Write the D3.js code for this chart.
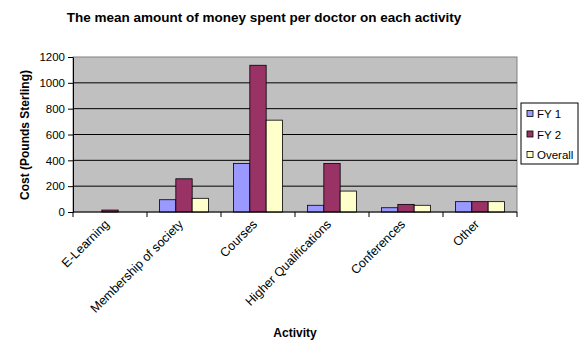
<!DOCTYPE html>
<html>
<head>
<meta charset="utf-8">
<script src="https://cdn.jsdelivr.net/npm/d3@7"></script>
<style>
  body { margin: 0; background: #fff; }
  svg { font-family: Arial, "Liberation Sans", sans-serif; }
</style>
</head>
<body>
<svg width="584" height="346"></svg>
<script>
const categories = ["E-Learning", "Membership of society", "Courses", "Higher Qualifications", "Conferences", "Other"]
const seriesNames = ["FY 1", "FY 2", "Overall"]
const fy1 = [0, 95, 376, 52, 33, 80]
const fy2 = [15, 257, 1136, 376, 59, 80]
const overall = [0, 106, 711, 162, 52, 80]
const yTicks = [0, 200, 400, 600, 800, 1000, 1200]
const colors = ["#9999ff", "#993366", "#ffffcc"]

const series = [fy1, fy2, overall]
const svg = d3.select("svg")
const plotL = 73, plotR = 517, plotT = 57, plotB = 212

const x = d3.scaleBand().domain(categories).range([plotL, plotR])
// 3 bars of ~16.5px centred in each 74px category
const xs = d3.scaleBand().domain(seriesNames).range([12.5, x.bandwidth() - 12.5])
const y = d3.scaleLinear().domain([0, 1200]).range([plotB, plotT])

// plot background
svg.append("rect")
  .attr("x", plotL).attr("y", plotT)
  .attr("width", plotR - plotL).attr("height", plotB - plotT)
  .attr("fill", "#c0c0c0")
  .attr("stroke", "#808080")

// gridlines
svg.append("g").selectAll("line")
  .data(yTicks.filter(d => d > 0 && d < 1200))
  .enter().append("line")
  .attr("x1", plotL).attr("x2", plotR)
  .attr("y1", d => y(d)).attr("y2", d => y(d))
  .attr("stroke", "#000").attr("stroke-width", 1)

// bars
categories.forEach((c, i) => {
  svg.append("g").selectAll("rect")
    .data(series.map((s, k) => ({ name: seriesNames[k], value: s[i], k: k })))
    .enter().append("rect")
    .attr("x", d => x(c) + xs(d.name))
    .attr("y", d => y(d.value))
    .attr("width", xs.bandwidth())
    .attr("height", d => plotB - y(d.value))
    .attr("fill", d => colors[d.k])
    .attr("stroke", "#000")
    .attr("stroke-width", 0.8)
})

// y axis
const yAxis = svg.append("g")
  .attr("transform", `translate(${plotL},0)`)
  .call(d3.axisLeft(y).tickValues(yTicks).tickSize(5).tickSizeOuter(0).tickFormat(d3.format("d")))
yAxis.select(".domain").attr("stroke", "#000")
yAxis.selectAll("text").attr("font-size", 11.5).attr("fill", "#000")
  .attr("font-family", "Arial, 'Liberation Sans', sans-serif")

// x axis with ticks at category boundaries
const xAxisG = svg.append("g").attr("transform", `translate(0,${plotB})`)
xAxisG.append("line").attr("x1", plotL).attr("x2", plotR).attr("stroke", "#000")
xAxisG.selectAll(".tk")
  .data(categories.concat(["end"]))
  .enter().append("line")
  .attr("x1", (d, i) => i < categories.length ? x(d) : plotR)
  .attr("x2", (d, i) => i < categories.length ? x(d) : plotR)
  .attr("y1", 0).attr("y2", 5)
  .attr("stroke", "#000")

xAxisG.selectAll("text")
  .data(categories)
  .enter().append("text")
  .attr("transform", d => `translate(${x(d) + x.bandwidth() / 2},13) rotate(-45)`)
  .attr("text-anchor", "end")
  .attr("font-size", 12.5)
  .attr("fill", "#000")
  .text(d => d)

// title
svg.append("text")
  .attr("x", 264).attr("y", 22)
  .attr("text-anchor", "middle")
  .attr("font-size", 13.5).attr("font-weight", "bold")
  .text("The mean amount of money spent per doctor on each activity")

// axis titles
svg.append("text")
  .attr("transform", "translate(29,135) rotate(-90)")
  .attr("text-anchor", "middle")
  .attr("font-size", 12).attr("font-weight", "bold")
  .text("Cost (Pounds Sterling)")

svg.append("text")
  .attr("x", 295).attr("y", 337)
  .attr("text-anchor", "middle")
  .attr("font-size", 12).attr("font-weight", "bold")
  .text("Activity")

// legend
const lg = svg.append("g").attr("transform", "translate(521,103)")
lg.append("rect").attr("width", 57).attr("height", 61)
  .attr("fill", "#fff").attr("stroke", "#000")
seriesNames.forEach((n, k) => {
  const row = lg.append("g").attr("transform", `translate(6,${11 + k * 20.5})`)
  row.append("rect").attr("x", 0).attr("y", -3.5).attr("width", 6).attr("height", 6)
    .attr("fill", colors[k]).attr("stroke", "#000").attr("stroke-width", 0.8)
  row.append("text").attr("x", 10).attr("y", 4)
    .attr("font-size", 11.5).text(n)
})
</script>
</body>
</html>
